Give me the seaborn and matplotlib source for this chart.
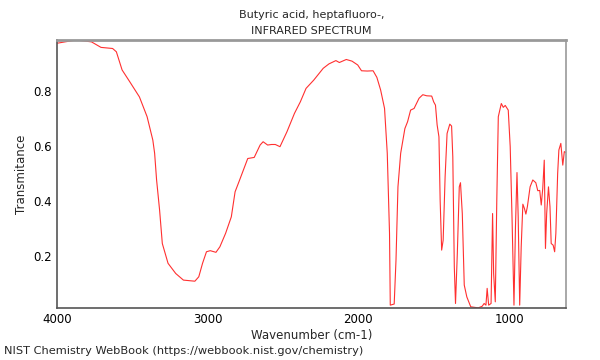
import numpy as np
import pandas as pd
import matplotlib
matplotlib.use("Agg")
from matplotlib import pyplot as plt
from matplotlib.ticker import MultipleLocator
import seaborn as sns

# spectrum points (wavenumber cm-1, transmittance)
wavenumber = [4000, 3873, 3771, 3708, 3631, 3606, 3568, 3517, 3453, 3402, 3364, 3352,
              3339, 3319, 3301, 3263, 3212, 3161, 3085, 3059, 3034, 3008, 2983, 2945,
              2919, 2881, 2843, 2818, 2792, 2734, 2691, 2652, 2632, 2602, 2576, 2551,
              2520, 2474, 2424, 2385, 2347, 2296, 2233, 2195, 2149, 2126, 2080, 2042,
              2004, 1979, 1941, 1902, 1877, 1852, 1826, 1808, 1793, 1788, 1762, 1750,
              1737, 1719, 1691, 1673, 1653, 1630, 1597, 1572, 1546, 1513, 1500, 1488,
              1477, 1465, 1457, 1447, 1437, 1424, 1411, 1393, 1381, 1373, 1363, 1355,
              1343, 1330, 1322, 1310, 1297, 1280, 1254, 1204, 1178, 1165, 1153, 1145,
              1135, 1119, 1109, 1102, 1091, 1081, 1071, 1051, 1038, 1025, 1005, 992,
              980, 967, 957, 947, 939, 929, 919, 908, 898, 888, 878, 860, 842, 822,
              809, 796, 786, 776, 766, 758, 750, 738, 728, 720, 707, 697, 689, 677,
              669, 656, 643, 633, 623]
transmittance = [0.975, 0.987, 0.980, 0.960, 0.956, 0.944, 0.878, 0.835, 0.780, 0.708, 0.623, 0.575,
                 0.478, 0.368, 0.247, 0.175, 0.138, 0.114, 0.110, 0.126, 0.175, 0.217, 0.221, 0.215,
                 0.235, 0.284, 0.344, 0.435, 0.472, 0.556, 0.560, 0.605, 0.617, 0.605, 0.607, 0.607,
                 0.599, 0.653, 0.720, 0.762, 0.811, 0.841, 0.884, 0.900, 0.912, 0.905, 0.916, 0.910,
                 0.896, 0.875, 0.874, 0.875, 0.851, 0.805, 0.738, 0.575, 0.284, 0.023, 0.027, 0.187,
                 0.453, 0.575, 0.665, 0.690, 0.732, 0.738, 0.775, 0.788, 0.784, 0.783, 0.762, 0.750,
                 0.678, 0.635, 0.405, 0.223, 0.259, 0.490, 0.647, 0.681, 0.674, 0.562, 0.162, 0.029,
                 0.211, 0.453, 0.468, 0.356, 0.096, 0.053, 0.017, 0.013, 0.019, 0.029, 0.023, 0.084,
                 0.023, 0.029, 0.356, 0.138, 0.035, 0.405, 0.708, 0.756, 0.742, 0.749, 0.732, 0.599,
                 0.344, 0.023, 0.308, 0.505, 0.344, 0.023, 0.235, 0.390, 0.375, 0.354, 0.381, 0.453, 0.478, 0.468,
                 0.439, 0.440, 0.387, 0.447, 0.550, 0.229, 0.356, 0.453, 0.381, 0.247, 0.241, 0.217, 0.284, 0.502,
                 0.587, 0.611, 0.532, 0.581, 0.578]

df = pd.DataFrame({"wavenumber": wavenumber, "transmittance": transmittance})

sns.set_style("white")
plt.rcParams["font.family"] = ["DejaVu Sans"]

fig = plt.figure(figsize=(6, 3.6), dpi=100)
ax = fig.add_axes([0.095, 0.144, 0.848, 0.745])

sns.lineplot(data=df, x="wavenumber", y="transmittance", sort=False, estimator=None,
             color="#ff3030", linewidth=0.8, ax=ax)

ax.set_xlim(4000, 623)
ax.set_ylim(0.012, 0.987)
ax.xaxis.set_major_locator(MultipleLocator(1000))
ax.xaxis.set_minor_locator(MultipleLocator(100))
ax.yaxis.set_major_locator(MultipleLocator(0.2))
ax.yaxis.set_minor_locator(MultipleLocator(0.05))
ax.tick_params(which="both", direction="in", top=False, right=False, labelsize=8.5, colors="#333333")
ax.tick_params(which="major", length=5, width=1)
ax.tick_params(which="minor", length=3, width=0.8)
for lab in ax.get_xticklabels() + ax.get_yticklabels():
    lab.set_color("black")

for side in ["left", "bottom"]:
    ax.spines[side].set_color("#555555")
    ax.spines[side].set_linewidth(1.2)
ax.spines["top"].set_color("#999999")
ax.spines["top"].set_linewidth(2)
ax.spines["right"].set_color("#999999")
ax.spines["right"].set_linewidth(1.2)

ax.set_xlabel("Wavenumber (cm-1)", fontsize=8.5, labelpad=2)
ax.set_ylabel("Transmitance", fontsize=8.5)
ax.set_title("Butyric acid, heptafluoro-,\nINFRARED SPECTRUM", fontsize=8, pad=4, linespacing=1.75)

fig.text(0.006, 0.018, "NIST Chemistry WebBook (https://webbook.nist.gov/chemistry)", fontsize=8.2)

fig.savefig("out.png", dpi=100)
